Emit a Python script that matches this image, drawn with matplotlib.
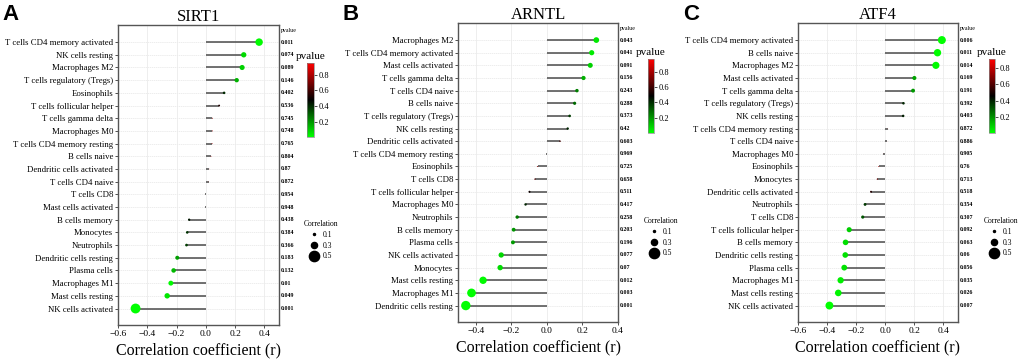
import numpy as np
import matplotlib
matplotlib.use("Agg")
import matplotlib.pyplot as plt
from matplotlib.colors import LinearSegmentedColormap, Normalize
from matplotlib.lines import Line2D

# ---- data ----
sirt1_cells = ["T cells CD4 memory activated", "NK cells resting", "Macrophages M2",
               "T cells regulatory (Tregs)", "Eosinophils", "T cells follicular helper",
               "T cells gamma delta", "Macrophages M0", "T cells CD4 memory resting",
               "B cells naive", "Dendritic cells activated", "T cells CD4 naive",
               "T cells CD8", "Mast cells activated", "B cells memory", "Monocytes",
               "Neutrophils", "Dendritic cells resting", "Plasma cells",
               "Macrophages M1", "Mast cells resting", "NK cells activated"]
sirt1_r = [0.364, 0.259, 0.248, 0.211, 0.125, 0.091, 0.045, 0.045, 0.043, 0.036, 0.023,
           0.020, -0.005, -0.006, -0.114, -0.127, -0.132, -0.195, -0.220, -0.239,
           -0.264, -0.480]
sirt1_p = ["0.011", "0.074", "0.089", "0.146", "0.402", "0.536", "0.745", "0.748", "0.765",
           "0.804", "0.87", "0.872", "0.954", "0.948", "0.438", "0.384", "0.366", "0.183",
           "0.132", "0.01", "0.049", "0.001"]

arntl_cells = ["Macrophages M2", "T cells CD4 memory activated", "Mast cells activated",
               "T cells gamma delta", "T cells CD4 naive", "B cells naive",
               "T cells regulatory (Tregs)", "NK cells resting", "Dendritic cells activated",
               "T cells CD4 memory resting", "Eosinophils", "T cells CD8",
               "T cells follicular helper", "Macrophages M0", "Neutrophils", "B cells memory",
               "Plasma cells", "NK cells activated", "Monocytes", "Mast cells resting",
               "Macrophages M1", "Dendritic cells resting"]
arntl_r = [0.278, 0.252, 0.244, 0.206, 0.169, 0.156, 0.128, 0.117, 0.074, -0.004, -0.052,
           -0.067, -0.098, -0.120, -0.167, -0.187, -0.191, -0.257, -0.263, -0.359,
           -0.424, -0.456]
arntl_p = ["0.043", "0.041", "0.091", "0.156", "0.243", "0.288", "0.373", "0.42", "0.603",
           "0.969", "0.725", "0.658", "0.511", "0.417", "0.258", "0.203", "0.196", "0.077",
           "0.07", "0.012", "0.003", "0.001"]

atf4_cells = ["T cells CD4 memory activated", "B cells naive", "Macrophages M2",
              "Mast cells activated", "T cells gamma delta", "T cells regulatory (Tregs)",
              "NK cells resting", "T cells CD4 memory resting", "T cells CD4 naive",
              "Macrophages M0", "Eosinophils", "Monocytes", "Dendritic cells activated",
              "Neutrophils", "T cells CD8", "T cells follicular helper", "B cells memory",
              "Dendritic cells resting", "Plasma cells", "Macrophages M1",
              "Mast cells resting", "NK cells activated"]
atf4_r = [0.389, 0.359, 0.348, 0.200, 0.191, 0.125, 0.123, 0.018, 0.014, -0.014, -0.045,
          -0.055, -0.098, -0.139, -0.155, -0.248, -0.273, -0.275, -0.282, -0.307,
          -0.323, -0.384]
atf4_p = ["0.006", "0.011", "0.014", "0.169", "0.191", "0.392", "0.403", "0.872", "0.886",
          "0.905", "0.76", "0.713", "0.518", "0.354", "0.307", "0.092", "0.063", "0.06",
          "0.056", "0.035", "0.026", "0.007"]

size_breaks = [0.1, 0.3, 0.5]

SERIF = ["Liberation Serif", "DejaVu Serif"]
plt.rcParams["font.family"] = SERIF
cmap = LinearSegmentedColormap.from_list("gkr", ["#00ff00", "#000000", "#ff0000"])

W, H = 1020, 360


def box(x0, y0, x1, y1):
    # pixel box (top-left origin) -> figure fraction rect
    return [x0 / W, 1 - y1 / H, (x1 - x0) / W, (y1 - y0) / H]


def msize(r):
    return (14.8 * abs(r)) ** 2


def draw_panel(fig, rect, crect, leg_xy, cells, r, p, title, letter, xlim, xticks):
    ax = fig.add_axes(rect)
    n = len(cells)
    y = np.arange(n)[::-1] + 1
    r = np.array(r)
    pv = np.array([float(v) for v in p])
    norm = Normalize(vmin=pv.min(), vmax=pv.max())

    ax.hlines(y, 0, r, color="#4a4a4a", lw=1.1, zorder=2)
    sc = ax.scatter(r, y, s=msize(r), c=pv, cmap=cmap, norm=norm,
                    edgecolors="none", zorder=3)

    ax.set_xlim(*xlim)
    ax.set_ylim(-0.3, n + 1.35)
    ax.set_xticks(xticks)
    ax.set_xticklabels([f"{t:.1f}".replace("-", "\u2212") for t in xticks], fontsize=6.8)
    ax.set_yticks(y)
    ax.set_yticklabels(cells, fontsize=6.3)
    ax.tick_params(length=2, width=0.6, color="#333333", pad=1.5)
    ax.grid(axis="x", color="#ebebeb", lw=0.6, zorder=0)
    for yy in y:
        ax.axhline(yy, color="#e6e6e6", lw=0.5, ls=(0, (2, 1)), zorder=0)
    ax.set_axisbelow(True)
    for s in ax.spines.values():
        s.set_color("#555555")
        s.set_linewidth(1.0)

    ax.set_title(title, fontsize=12, pad=3)
    ax.set_xlabel("Correlation coefficient (r)", fontsize=11.5, labelpad=3)

    # p-value column
    tr = ax.get_yaxis_transform()
    for yy, t in zip(y, p):
        ax.text(1.01, yy, t, transform=tr, fontsize=4.2, fontweight="bold",
                va="center", ha="left")
    ax.text(1.01, n + 0.95, "pvalue", transform=tr, fontsize=4.2, va="center", ha="left")

    # panel letter
    fig.text(rect[0] - 0.113, 0.96, letter, fontsize=16, fontweight="bold",
             family=["Liberation Sans", "DejaVu Sans"], va="center", ha="left")

    # colorbar
    cax = fig.add_axes(crect)
    cb = fig.colorbar(sc, cax=cax)
    cb.set_ticks([0.2, 0.4, 0.6, 0.8])
    cb.ax.tick_params(labelsize=6, length=2, width=0.5, pad=1)
    cb.outline.set_linewidth(0.5)
    cb.outline.set_edgecolor("#888888")
    cax.set_title("pvalue", fontsize=8, pad=3)

    # size legend
    handles = [Line2D([], [], ls="none", marker="o", color="black",
                      markersize=14.8 * b) for b in size_breaks]
    fig.legend(handles, [str(b) for b in size_breaks], title="Correlation",
               loc="upper left", bbox_to_anchor=leg_xy, frameon=False,
               fontsize=5.5, title_fontsize=5.5, handletextpad=0.6,
               labelspacing=0.35, borderpad=0.2, handlelength=1.2)
    return ax


fig = plt.figure(figsize=(W / 100, H / 100), dpi=100)

draw_panel(fig, box(118, 25, 279, 325), box(307, 63, 314, 137),
           (298 / W, 1 - 215 / H), sirt1_cells, sirt1_r, sirt1_p,
           "SIRT1", "A", (-0.6, 0.5), [-0.6, -0.4, -0.2, 0.0, 0.2, 0.4])
draw_panel(fig, box(458, 23, 618, 322), box(648, 59, 654, 133),
           (638 / W, 1 - 212 / H), arntl_cells, arntl_r, arntl_p,
           "ARNTL", "B", (-0.5, 0.4), [-0.4, -0.2, 0.0, 0.2, 0.4])
draw_panel(fig, box(798, 23, 958, 322), box(989, 59, 995, 133),
           (978 / W, 1 - 212 / H), atf4_cells, atf4_r, atf4_p,
           "ATF4", "C", (-0.6, 0.5), [-0.6, -0.4, -0.2, 0.0, 0.2, 0.4])

fig.savefig("out.png", dpi=100)
